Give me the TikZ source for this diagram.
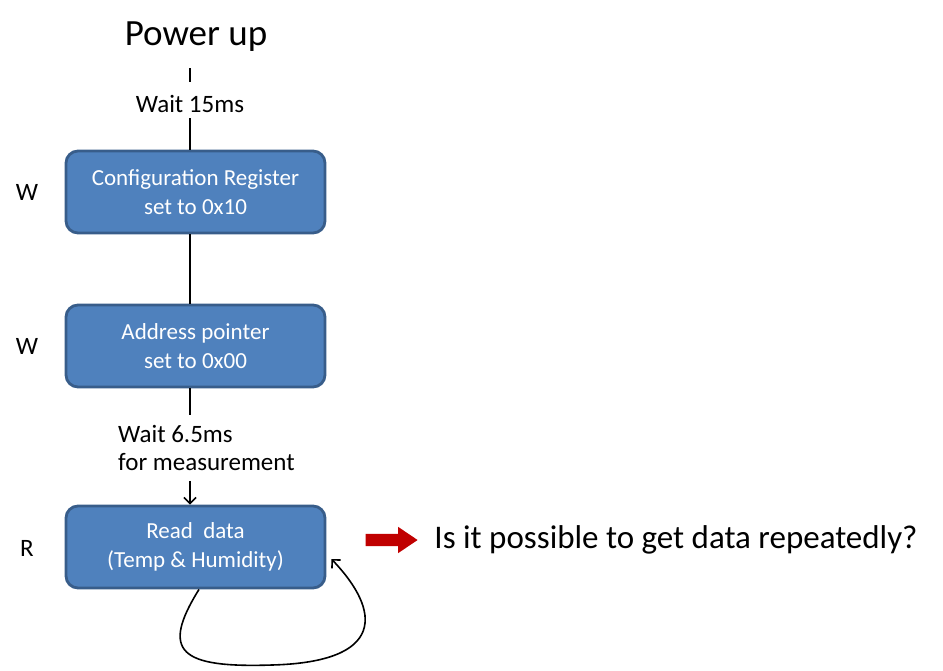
\documentclass[tikz,border=0pt]{standalone}
\usepackage{fontspec}
\setmainfont{Carlito}
\usepackage{tikz}
\usetikzlibrary{arrows.meta, positioning, shapes.arrows}

\definecolor{boxfill}{HTML}{4F81BD}
\definecolor{boxedge}{HTML}{385D8A}
\definecolor{hintred}{HTML}{C00000}

\tikzset{
  stepbox/.style={rectangle, draw=boxedge, fill=boxfill, line width=2.8pt,
                  rounded corners=12pt, minimum width=259pt, minimum height=82pt,
                  align=center, text=white, font=\fontsize{23}{29}\selectfont},
  lbl/.style={font=\fontsize{25}{28}\selectfont, align=left},
  rw/.style={font=\fontsize{25}{28}\selectfont},
  conn/.style={line width=1.6pt},
  arr/.style={conn, -{Straight Barb[length=6pt, width=12pt]}},
}

\begin{document}
\begin{tikzpicture}[x=1pt, y=-1pt]
  \useasboundingbox (0,0) rectangle (943,670);

  \node[font=\fontsize{37}{40}\selectfont] (pwr) at (196,37) {Power up};
  \node[rw, inner ysep=5.5pt] (w15) at (190,104) {Wait 15ms};

  \node[stepbox] (cfg) at (195.5,192) {Configuration Register\\set to 0x10};
  \node[stepbox] (adr) at (195.5,346) {Address pointer\\set to 0x00};
  \node[lbl, anchor=west, inner xsep=0pt, inner ysep=10pt] (wm) at (118,448)
    {Wait 6.5ms\\for measurement};
  \node[stepbox] (rd) at (195.5,547) {Read\ \ data\\(Temp \& Humidity)};

  \node[rw] (wcfg) at (27,192) {W};
  \node[rw] (wadr) at (27,346) {W};
  \node[rw] (rrd) at (27,548) {R};

  % flow
  \draw[conn] ([yshift=8pt]w15.north) -- ++(0,-14);
  \draw[conn] (w15.south) -- (cfg.north -| w15.south);
  \draw[conn] (cfg.south -| w15.south) -- (adr.north -| w15.south);
  \draw[conn] (adr.south -| w15.south) -- (wm.north -| w15.south);
  \draw[arr] (wm.south -| w15.south) -- (rd.north -| w15.south);

  % repeat loop
  \coordinate (loopbot) at (272,665);
  \draw[arr] ([xshift=3.5pt]rd.south) .. controls (160,652) and (180,668) .. (loopbot)
    .. controls (385,662) and (382,612) .. ([xshift=5pt,yshift=-12pt]rd.east);

  \node[single arrow, fill=hintred, inner xsep=0pt, inner ysep=6pt,
        minimum height=52pt, minimum width=26pt, single arrow head extend=7pt,
        single arrow tip angle=68] (hint) at (387,540) {};
  \node[font=\fontsize{33}{36}\selectfont, anchor=west, right=13pt of hint] (q)
    {Is it possible to get data repeatedly?};
\end{tikzpicture}
\end{document}
